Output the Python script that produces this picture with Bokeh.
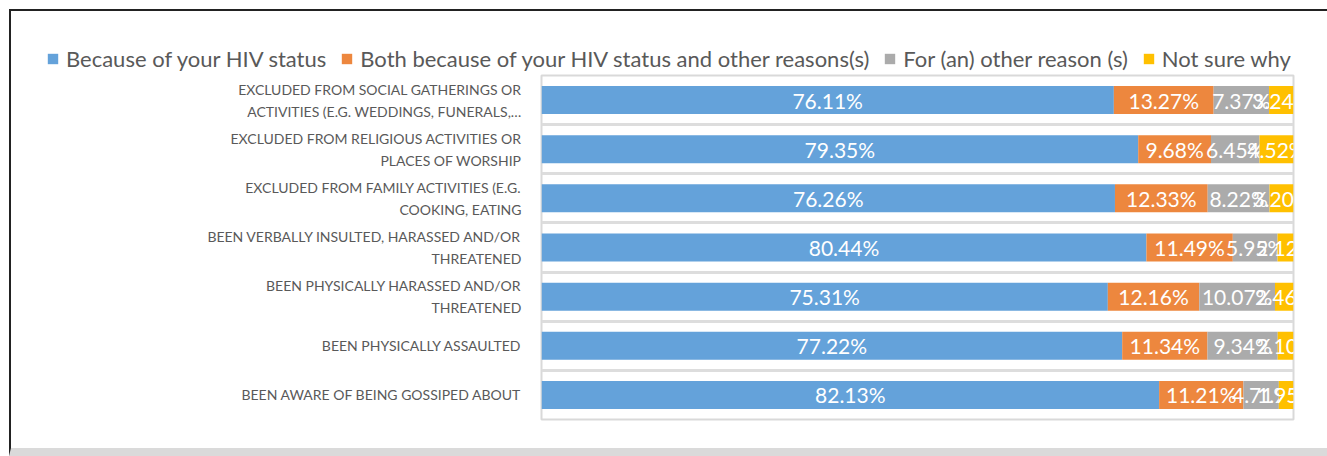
from bokeh.plotting import figure
from bokeh.layouts import column
from bokeh.models import (Range1d, FixedTicker, Legend, LegendItem, ColumnDataSource)
from bokeh.core.properties import value
from bokeh.embed import file_html
from bokeh.resources import INLINE

categories = [
    "EXCLUDED FROM SOCIAL GATHERINGS OR\nACTIVITIES (E.G. WEDDINGS, FUNERALS,…",
    "EXCLUDED FROM RELIGIOUS ACTIVITIES OR\nPLACES OF WORSHIP",
    "EXCLUDED FROM FAMILY ACTIVITIES (E.G.\nCOOKING, EATING",
    "BEEN VERBALLY INSULTED, HARASSED AND/OR\nTHREATENED",
    "BEEN PHYSICALLY HARASSED AND/OR\nTHREATENED",
    "BEEN PHYSICALLY ASSAULTED",
    "BEEN AWARE OF BEING GOSSIPED ABOUT",
]
series_names = [
    "Because of your HIV status",
    "Both because of your HIV status and other reasons(s)",
    "For (an) other reason (s)",
    "Not sure why",
]
because = [76.11, 79.35, 76.26, 80.44, 75.31, 77.22, 82.13]
both = [13.27, 9.68, 12.33, 11.49, 12.16, 11.34, 11.21]
other = [7.37, 6.45, 8.22, 5.95, 10.07, 9.34, 4.71]
notsure = [3.24, 4.52, 3.20, 2.12, 2.46, 2.10, 1.95]
colors = ["#64A2DA", "#ED873E", "#ABABAB", "#FFC000"]

# page geometry
OX, OY = 11, 11          # content origin inside the black border
CW = 1327 - OX           # content width
LEG_H = 60               # legend strip height
FL, FR, FT, FB = 541, 1293, 75, 419   # plot frame in page pixels
BOTTOM = 448

# ---- legend strip ----
lg = figure(width=CW, height=LEG_H, output_backend="svg", toolbar_location=None,
            x_axis_location=None, y_axis_location=None,
            x_range=Range1d(0, 1), y_range=Range1d(0, 1),
            min_border=0, outline_line_color=None)
lg.frame_align = False
lg.xgrid.visible = False
lg.ygrid.visible = False
dummy = []
for col in colors:
    dummy.append(lg.quad(left=[-10], right=[-9], bottom=[-10], top=[-9],
                         fill_color=col, line_color=None))
legend = Legend(items=[LegendItem(label=n, renderers=[r]) for n, r in zip(series_names, dummy)],
                orientation="horizontal", location=(46 - OX, -1))
legend.label_text_font = "Lato"
legend.label_text_font_size = "22px"
legend.label_text_color = "#595959"
legend.glyph_width = 13
legend.glyph_height = 13
legend.label_standoff = 7
legend.spacing = 14
legend.padding = 0
legend.margin = 0
legend.border_line_color = None
legend.background_fill_alpha = 0
lg.add_layout(legend, "center")

# ---- main chart ----
MH = BOTTOM - OY - LEG_H
p = figure(width=CW, height=MH, output_backend="svg", toolbar_location=None,
           x_range=Range1d(0, 100), y_range=Range1d(len(categories), 0),
           min_border_left=FL - OX, min_border_right=1327 - FR,
           min_border_top=FT - OY - LEG_H, min_border_bottom=BOTTOM - FB)
p.frame_align = False
p.xaxis.visible = False
p.xgrid.visible = False
p.outline_line_color = "#D9D9D9"
p.outline_line_width = 2

centers = [i + 0.5 for i in range(len(categories))]
p.yaxis.ticker = FixedTicker(ticks=centers)
p.yaxis.major_label_overrides = {c: lab for c, lab in zip(centers, categories)}
p.yaxis.axis_line_color = None
p.yaxis.major_tick_line_color = None
p.yaxis.minor_tick_line_color = None
p.yaxis.major_label_standoff = 14
p.yaxis.major_label_text_font = "Lato"
p.yaxis.major_label_text_font_size = "14px"
p.yaxis.major_label_text_color = "#595959"
p.yaxis.major_label_text_line_height = 1.3

p.ygrid.ticker = FixedTicker(ticks=list(range(len(categories) + 1)))
p.ygrid.grid_line_color = "#DDDDDD"
p.ygrid.grid_line_width = 3

series = [because, both, other, notsure]
left = [0.0] * len(categories)
for vals, col in zip(series, colors):
    right = [l + v for l, v in zip(left, vals)]
    src = ColumnDataSource(dict(y=centers, left=left, right=right,
                                mid=[(l + r) / 2 for l, r in zip(left, right)],
                                lab=[f"{v:.2f}%" for v in vals]))
    p.hbar(y="y", left="left", right="right", height=0.57, source=src,
           fill_color=col, line_color=None)
    p.text(x="mid", y="y", text="lab", source=src, text_align="center",
           text_baseline="middle", text_color="white",
           text_font=value("Lato"), text_font_size="21px")
    left = right

layout = column(lg, p, spacing=0,
                styles={"margin-left": "9px", "margin-top": "9px",
                        "border-left": "2px solid #222222",
                        "border-top": "2px solid #222222",
                        "border-bottom": "8px solid #DADADA"})

open("out.html", "w").write(file_html(layout, INLINE))
